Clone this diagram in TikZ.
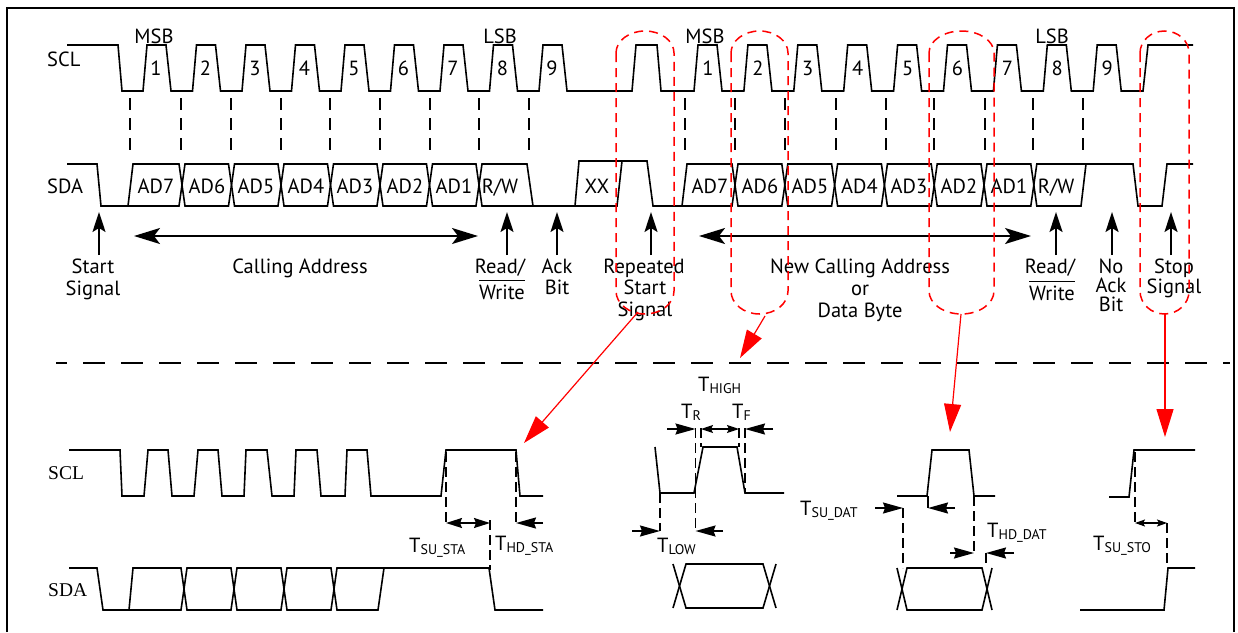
\documentclass[tikz,border=0pt]{standalone}
\usepackage{fontspec}
\setmainfont{Liberation Serif}
\newfontfamily\myr{PT Sans}
\usetikzlibrary{arrows.meta}
\newcommand\Tsb[1]{T\raisebox{-2pt}{\fontsize{14}{14}\selectfont #1}}
\newcommand\ovl[1]{\leavevmode\vbox{\hrule height 1.6pt \kern 3pt \hbox{#1}}}
\newcommand\redoval[2]{%
 \pgfmathsetmacro\rxm{(#1+#2)/2}\pgfmathsetmacro\rcx{0.5523*(#2-#1)/2}%
 \draw[rdash] (#1,53) -- (#1,291) .. controls (#1,303.7) and ({\rxm-\rcx},314) .. (\rxm,314)
   .. controls ({\rxm+\rcx},314) and (#2,303.7) .. (#2,291) -- (#2,53)
   .. controls (#2,40.8) and ({\rxm+\rcx},31) .. (\rxm,31)
   .. controls ({\rxm-\rcx},31) and (#1,40.8) .. (#1,53);}
\tikzset{
 wave/.style={line width=1.6pt, line join=miter},
 vdash/.style={line width=1.6pt, dash pattern=on 12pt off 8pt},
 tdash/.style={line width=1.6pt, dash pattern=on 10pt off 5pt},
 rdash/.style={red, line width=1.5pt, dash pattern=on 9pt off 6pt},
 sepline/.style={line width=1.6pt, dash pattern=on 22pt off 16pt, dash phase=11pt},
 lbl/.style={font=\myr\fontsize{20.5}{22}\selectfont, inner sep=0pt, anchor=base},
 ser/.style={font=\fontsize{19.5}{20}\selectfont, inner sep=0pt, anchor=base west},
 tlbl/.style={font=\myr\fontsize{20.5}{22}\selectfont, inner sep=0pt, anchor=base west},
 upar/.style={line width=1.8pt, -{Stealth[length=20pt,width=13pt,inset=4pt]}},
 dbar/.style={line width=1.8pt, {Stealth[length=26pt,width=16pt,inset=6pt]}-{Stealth[length=26pt,width=16pt,inset=6pt]}},
 tar/.style={line width=1.6pt, -{Stealth[length=20pt,width=11pt,inset=2pt]}},
 tdbl/.style={line width=1.6pt, {Stealth[length=16pt,width=10pt,inset=2pt]}-{Stealth[length=16pt,width=10pt,inset=2pt]}},
 tdbs/.style={line width=1.4pt, {Stealth[length=12pt,width=8pt,inset=2pt]}-{Stealth[length=12pt,width=8pt,inset=2pt]}},
 tdbxs/.style={line width=1.4pt, {Stealth[length=10pt,width=7pt,inset=2pt]}-{Stealth[length=10pt,width=7pt,inset=2pt]}},
 redar/.style={red, line width=1.2pt, -{Triangle[length=28pt,width=17pt]}},
 frame/.style={line width=2pt}
}
\begin{document}
\begin{tikzpicture}[x=1pt,y=-1pt]
\useasboundingbox (0,0) rectangle (1238,632);
\draw[frame] (7,632) -- (7,8) -- (1234,8) -- (1234,632);

% ---------- top SCL ----------
\draw[wave] (67,45) -- (118,45) -- (122,91)
  foreach \k in {0,...,8} { -- ({143+49.5*\k},91) -- ({147+49.5*\k},45) -- ({166+49.5*\k},45) -- ({171+49.5*\k},91) }
  -- (632,91) -- (636,45) -- (657,45) -- (661,91)
  foreach \k in {0,...,8} { -- ({694+49.9*\k},91) -- ({698+49.9*\k},45) -- ({717+49.9*\k},45) -- ({722+49.9*\k},91) }
  -- (1143,91) -- (1148,45) -- (1193,45);

% ---------- top SDA ----------
\draw[wave] (67,164)--(97,164)--(101,206)--(128,206)--(133,164)--(179,164)--(185,206)--(228.5,206)--(234.5,164)--(278,164)--(284,206)--(327.5,206)--(333.5,164)--(377,164)--(383,206)--(426.5,206)--(432.5,164)--(476,164)--(482,206)--(617,206)--(622,161);
\draw[wave] (128,206)--(179,206)--(185,164)--(228.5,164)--(234.5,206)--(278,206)--(284,164)--(327.5,164)--(333.5,206)--(377,206)--(383,164)--(426.5,164)--(432.5,206)--(476,206)--(482,164)--(527,164)--(533,206);
\draw[wave] (575,206)--(579,161)--(647,161)--(653,206)--(682,206)--(687,164)--(732,164)--(738,206)--(781.8,206)--(787.8,164)--(831.6,164)--(837.6,206)--(881.4,206)--(887.4,164)--(931.2,164)--(937.2,206)--(981,206)--(987,164)--(1030.8,164)--(1036.8,206)--(1081,206)--(1086,164);
\draw[wave] (682,206)--(732,206)--(738,164)--(781.8,164)--(787.8,206)--(831.6,206)--(837.6,164)--(881.4,164)--(887.4,206)--(931.2,206)--(937.2,164)--(981,164)--(987,206)--(1030.8,206)--(1036.8,164)--(1133,164)--(1138,206)--(1162,206)--(1167,164)--(1193,164);

% dashed verticals
\foreach \x in {130,181,231,281,330,380,430,479,529,685,735,785,836,886,934,985,1033,1083}
  \draw[vdash] (\x,98) -- (\x,152);

% labels top
\node[tlbl] (sclt) at (47,66) {SCL};
\node[tlbl] (sdat) at (47,193) {SDA};
\node[lbl] (msb1) at (154,43) {MSB};
\node[lbl] (lsb1) at (500,43) {LSB};
\node[lbl] (msb2) at (705,43) {MSB};
\node[lbl] (lsb2) at (1052,43) {LSB};
\foreach \k in {1,...,9} {
  \node[lbl] (na\k) at ({106.5+49.5*\k},75) {\k};
  \node[lbl] (nb\k) at ({658.1+49.9*\k},75) {\k};
}
\foreach \t/\x [count=\i] in {AD7/156,AD6/207,AD5/256,AD4/306,AD3/355,AD2/405,AD1/454,R\slash W/500,XX/597}
  \node[lbl] (ca\i) at (\x,193) {\t};
\foreach \t/\x [count=\i] in {AD7/710,AD6/760,AD5/810,AD4/859.5,AD3/909,AD2/959,AD1/1009,R\slash W/1056}
  \node[lbl] (cb\i) at (\x,193) {\t};

% black arrows
\foreach \x [count=\i] in {99,507,557,651,1056,1112,1171} {
  \coordinate (ub\i) at (\x,255); \coordinate (ut\i) at (\x,212);
  \draw[upar] (ub\i) -- (ut\i);
}
\coordinate (da1) at (134,236); \coordinate (da2) at (478,236);
\coordinate (db1) at (699,236); \coordinate (db2) at (1031,236);
\draw[dbar] (da1) -- (da2);
\draw[dbar] (db1) -- (db2);

% annotations
\node[lbl] (st1) at (93,273) {Start};
\node[lbl] (st2) at (93,295) {Signal};
\node[lbl] (ca) at (300,273) {Calling Address};
\node[lbl] (rw1a) at (500,273) {Read/};
\node[lbl] (rw1b) at (502,299) {\ovl{Write}};
\node[lbl] (ack1) at (557,273) {Ack};
\node[lbl] (ack2) at (557,294) {Bit};
\node[lbl] (rs1) at (644,273) {Repeated};
\node[lbl] (rs2) at (645,294) {Start};
\node[lbl] (rs3) at (645,316) {Signal};
\node[lbl] (nc1) at (860,273) {New Calling Address};
\node[lbl] (nc2) at (860,295) {or};
\node[lbl] (nc3) at (860,317) {Data Byte};
\node[lbl] (rw2a) at (1050,273) {Read/};
\node[lbl] (rw2b) at (1052,300) {\ovl{Write}};
\node[lbl] (na1) at (1111,273) {No};
\node[lbl] (na2) at (1111,292) {Ack};
\node[lbl] (na3) at (1111,311) {Bit};
\node[lbl] (sp1) at (1174,273) {Stop};
\node[lbl] (sp2) at (1174,293) {Signal};

% red ovals
\redoval{616}{674}
\redoval{731}{788}
\redoval{929}{994}
\redoval{1140}{1189}

% separator
\draw[sepline] (56,363) -- (1230,363);

% red arrows
\coordinate (r1s) at (638,312); \coordinate (r1e) at (524,443);
\coordinate (r2s) at (765,316); \coordinate (r2e) at (740,358);
\coordinate (r3s) at (961,314); \coordinate (r3e) at (950,432);
\coordinate (r4s) at (1165,314); \coordinate (r4e) at (1165,437);
\draw[redar] (r1s) -- (r1e);
\draw[redar] (r2s) -- (r2e);
\draw[redar] (r3s) -- (r3e);
\draw[redar] (r4s) -- (r4e);

% ---------- bottom ----------
\node[ser] (sclb) at (48,479) {SCL};
\node[ser] (sdab) at (48,596) {SDA};

\draw[wave] (69,450)--(120,450)--(122,496)--(144,496)--(148,450)--(168,450)--(172,496)--(194,496)--(198,450)--(218,450)--(222,496)--(244,496)--(246,450)--(267,450)--(272,496)--(294,496)--(296,450)--(317,450)--(321,496)--(345,496)--(347,450)--(367,450)--(371,496)--(441,496)--(446,450)--(516,450)--(520,496)--(543,496);
\draw[wave] (69,568)--(97,568)--(103,610)--(129,610)--(133,568)--(181,568)--(187,610)--(231,610)--(237,568)--(281,568)--(287,610)--(331,610)--(337,568)--(489,568)--(495,610)--(543,610);
\draw[wave] (129,610)--(181,610)--(187,568)--(231,568)--(237,610)--(281,610)--(287,568)--(331,568)--(337,610)--(378,610)--(384,568);

\draw[tdash] (446,452) -- (446,525);
\draw[tdash] (516,452) -- (516,525);
\draw[tdash] (490,520) -- (490,570);
\coordinate (su1) at (446,523); \coordinate (su2) at (490,523);
\draw[tdbl] (su1) -- (su2);
\coordinate (hd1) at (543,523); \coordinate (hd2) at (516,523);
\draw[tar] (hd1) -- (hd2);
\node[tlbl] (tsusta) at (409,552) {\Tsb{SU\_STA}};
\node[tlbl] (thdsta) at (495,550) {\Tsb{HD\_STA}};

% middle
\draw[wave] (655,447)--(660,493)--(694,493)--(703,447)--(737,447)--(745,493)--(784,493);
\draw[wave] (673,564)--(686,608)--(763,608)--(776,564);
\draw[wave] (673,608)--(686,564)--(763,564)--(776,608);
\draw[tdash] (660,493) -- (660,531);
\draw[tdash] (695.5,428) -- (695.5,531);
\draw[tdash] (701,428) -- (701,447);
\draw[tdash] (739,428) -- (739,447);
\draw[tdash] (745,428) -- (745,493);
\coordinate (tr1) at (667,429); \coordinate (tr2) at (695.5,429);
\coordinate (th1) at (701,429); \coordinate (th2) at (739,429);
\coordinate (tf1) at (773,429); \coordinate (tf2) at (745,429);
\coordinate (tl1) at (632,531); \coordinate (tl2) at (660,531);
\coordinate (tl3) at (723,531); \coordinate (tl4) at (695.5,531);
\draw[tar] (tr1) -- (tr2);
\draw[tdbs] (th1) -- (th2);
\draw[tar] (tf1) -- (tf2);
\draw[tar] (tl1) -- (tl2);
\draw[tar] (tl3) -- (tl4);
\node[tlbl] (thigh) at (698,391) {\Tsb{HIGH}};
\node[tlbl] (ttr) at (681,418) {\Tsb{R}};
\node[tlbl] (ttf) at (732,418) {\Tsb{F}};
\node[tlbl] (tlow) at (657,552) {\Tsb{LOW}};

% part 3
\draw[wave] (897,496)--(927,496)--(932,450)--(969,450)--(974,496)--(995,496);
\draw[wave] (897,568)--(907,610)--(982,610)--(992,568);
\draw[wave] (897,610)--(907,568)--(982,568)--(992,610);
\draw[line width=1.6pt] (928,496) -- (928,508);
\draw[tdash] (903,508) -- (903,568);
\draw[tdash] (974,496) -- (974,555);
\draw[tdash] (986,553) -- (986,568);
\coordinate (sd1) at (875,508); \coordinate (sd2) at (903,508);
\coordinate (sd3) at (955,508); \coordinate (sd4) at (928,508);
\coordinate (hdd1) at (950,553); \coordinate (hdd2) at (974,553);
\coordinate (hdd3) at (1014,553); \coordinate (hdd4) at (986,553);
\draw[tar] (sd1) -- (sd2);
\draw[tar] (sd3) -- (sd4);
\draw[tar] (hdd1) -- (hdd2);
\draw[tar] (hdd3) -- (hdd4);
\node[tlbl] (tsudat) at (800,515) {\Tsb{SU\_DAT}};
\node[tlbl] (thddat) at (987,537) {\Tsb{HD\_DAT}};

% part 4
\draw[wave] (1109,497)--(1129,497)--(1134,450)--(1195,450);
\draw[wave] (1080,610)--(1164,610)--(1168,568)--(1195,568);
\draw[tdash] (1135,452) -- (1135,523);
\draw[tdash] (1167,523) -- (1167,568);
\coordinate (ss1) at (1135,523); \coordinate (ss2) at (1167,523);
\draw[tdbxs] (ss1) -- (ss2);
\node[tlbl] (tsusto) at (1093,550) {\Tsb{SU\_STO}};
\end{tikzpicture}
\end{document}
